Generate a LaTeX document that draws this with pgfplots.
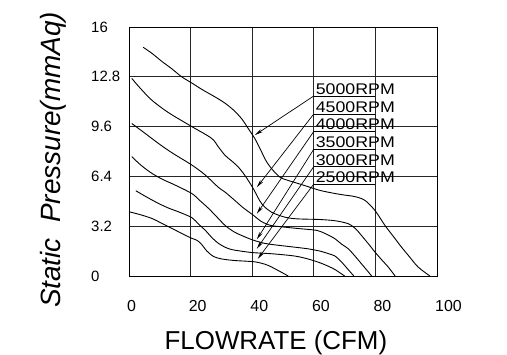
\documentclass[border=0pt]{standalone}
\usepackage{fontspec}
\setmainfont{Liberation Sans}
\usepackage{graphicx}
\usepackage{pgfplots}
\pgfplotsset{compat=1.18}
\usetikzlibrary{arrows.meta}
\tikzset{rpmlabel/.style={anchor=base west, inner sep=0pt, font=\fontsize{15.5}{15.5}\selectfont, yshift=1.5bp}}
\begin{document}
\begin{tikzpicture}
\begin{axis}[
  scale only axis, width=308bp, height=249bp,
  xmin=0, xmax=100, ymin=0, ymax=16,
  xtick={0,20,40,60,80,100}, xticklabels={0,20,40,60,80,100},
  ytick={0,3.2,6.4,9.6,12.8,16}, yticklabels={0,3.2,6.4,9.6,12.8,16},
  major tick length=0pt,
  grid=major, grid style={black!85, line width=0.8bp},
  axis line style={black, line width=0.9bp},
  xticklabel style={font=\fontsize{16}{16}\selectfont, anchor=north west, inner sep=0pt, xshift=-2bp, yshift=-24bp},
  yticklabel style={font=\fontsize{15}{15}\selectfont, anchor=west, inner sep=0pt, xshift=-38bp},
  xlabel={FLOWRATE (CFM)},
  xlabel style={font=\fontsize{26}{26}\selectfont, at={(axis description cs:0.477,-0.297)}, anchor=base, inner sep=0pt},
  ylabel={Static\ \ Pressure(mmAq)},
  ylabel style={font=\fontsize{28}{28}\selectfont\itshape, at={(axis description cs:-0.224,0.466)}, anchor=base, inner sep=0pt},
  clip=false,
  every axis plot/.append style={black, line width=0.9bp},
]
% 5000 RPM
\addplot[smooth] coordinates {
(4.6,14.7) (7.5,14.3) (10.6,13.8) (14,13.3) (17.1,12.8) (20.4,12.4) (24,11.95) (28,11.5) (31.2,11.1) (34,10.65) (36.6,10.1) (38.8,9.45) (40.8,8.85) (42.5,8.2) (44.5,7.4) (46.5,6.85) (49,6.35) (51.5,6.15) (54,6.0) (58,5.75) (62,5.5) (66.9,5.3) (70,5.2) (73.4,5.1) (76.6,4.86) (79.9,4.2) (83.1,3.25) (86,2.5) (88.5,1.85) (91,1.25) (93.9,0.57) (97.7,0)
};
% 4500 RPM
\addplot[smooth] coordinates {
(0.9,12.7) (3.5,12.1) (7.4,11.3) (12.8,10.5) (20.4,9.6) (26.8,8.85) (29,8.3) (31.2,7.75) (33.3,7.4) (35.5,7.0) (37.5,6.5) (39,6.05) (40.4,5.6) (43.1,4.64) (46.3,4.1) (50.6,3.78) (54,3.68) (58,3.65) (62,3.63) (66.9,3.55) (71.2,3.36) (73.5,3.05) (75.5,2.6) (77.8,2.05) (79.9,1.53) (82,1.05) (84.2,0.57) (86.4,0)
};
% 4000 RPM
\addplot[smooth] coordinates {
(0.9,9.8) (5,9.2) (9,8.6) (12.2,8.15) (14.9,7.8) (20.4,7.13) (24.7,6.5) (29,5.7) (31.2,5.39) (34.4,4.85) (37,4.4) (40.4,3.9) (43,3.5) (46,3.25) (50,3.15) (55.5,3.04) (61,2.93) (64,2.7) (66.9,2.39) (69,2.05) (71.2,1.75) (73.5,1.25) (75.5,0.78) (78.8,0)
};
% 3500 RPM
\addplot[smooth] coordinates {
(0.9,7.67) (4,7.1) (7.4,6.6) (11,6.2) (14.9,5.85) (20.4,5.3) (23,4.85) (25.8,4.35) (28.5,3.8) (31.2,3.25) (34,2.85) (36.6,2.6) (40.4,2.3) (44,2.1) (47.4,2.0) (53.9,1.85) (58,1.75) (62,1.6) (65,1.42) (66.9,1.28) (69,0.9) (71,0.45) (73,0)
};
% 3000 RPM
\addplot[smooth] coordinates {
(2.2,5.48) (5.5,5.1) (9.5,4.67) (13,4.35) (16,4.13) (20.4,3.75) (22.5,3.35) (24.7,2.95) (27,2.45) (29,2.1) (31.2,1.85) (33.3,1.7) (37,1.58) (40.4,1.5) (47,1.42) (53.9,1.28) (58,1.1) (62,0.85) (65,0.6) (67,0.4) (70,0)
};
% 2500 RPM
\addplot[smooth] coordinates {
(0,4.13) (3.5,3.95) (7.4,3.7) (11,3.35) (14.9,2.96) (18,2.65) (20.4,2.42) (22,2.3) (23.5,2.05) (25.3,1.6) (27.5,1.25) (30,1.1) (34,1.0) (40.4,0.92) (43,0.82) (45.2,0.68) (48,0.4) (51.7,0)
};
% label underlines
\addplot[line width=0.7bp] coordinates {(60,11.57) (80,11.57)};
\addplot[line width=0.7bp] coordinates {(60,10.41) (80,10.41)};
\addplot[line width=0.7bp] coordinates {(60,9.29) (80,9.29)};
\addplot[line width=0.7bp] coordinates {(60,8.15) (80,8.15)};
\addplot[line width=0.7bp] coordinates {(60,7.03) (80,7.03)};
\addplot[line width=0.7bp] coordinates {(60,5.91) (80,5.91)};
% arrows
\addplot[line width=0.7bp, -{Stealth[length=8bp,width=3.5bp]}] coordinates {(60,11.57) (40.9,9.06)};
\addplot[line width=0.7bp, -{Stealth[length=8bp,width=3.5bp]}] coordinates {(60,10.41) (41.5,5.7)};
\addplot[line width=0.7bp, -{Stealth[length=8bp,width=3.5bp]}] coordinates {(60,9.29) (41.5,4.0)};
\addplot[line width=0.7bp, -{Stealth[length=8bp,width=3.5bp]}] coordinates {(60,8.15) (41.5,2.35)};
\addplot[line width=0.7bp, -{Stealth[length=8bp,width=3.5bp]}] coordinates {(60,7.03) (41.5,1.75)};
\addplot[line width=0.7bp, -{Stealth[length=8bp,width=3.5bp]}] coordinates {(60,5.91) (41.8,1.1)};
% labels
\node[rpmlabel] at (axis cs:60.6,11.57) {\scalebox{1.15}[1]{5000RPM}};
\node[rpmlabel] at (axis cs:60.6,10.41) {\scalebox{1.15}[1]{4500RPM}};
\node[rpmlabel] at (axis cs:60.6,9.29) {\scalebox{1.15}[1]{4000RPM}};
\node[rpmlabel] at (axis cs:60.6,8.15) {\scalebox{1.15}[1]{3500RPM}};
\node[rpmlabel] at (axis cs:60.6,7.03) {\scalebox{1.15}[1]{3000RPM}};
\node[rpmlabel] at (axis cs:60.6,5.91) {\scalebox{1.15}[1]{2500RPM}};
\end{axis}
\pgfresetboundingbox
\path ([shift={(-129bp,-79bp)}]current axis.south west) rectangle ([shift={(70bp,27bp)}]current axis.north east);
\end{tikzpicture}
\end{document}
